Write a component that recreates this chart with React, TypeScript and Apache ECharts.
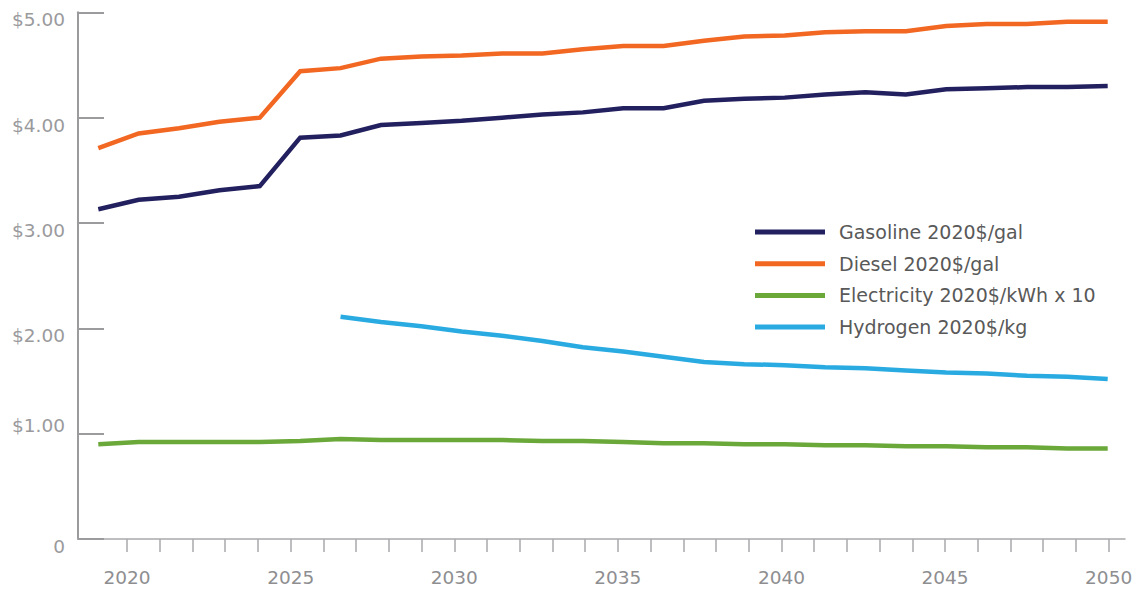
import React, { useEffect, useRef } from "react";
import * as echarts from "echarts";

// 26 evenly spaced data points plotted across the chart
const points = [
  "p01", "p02", "p03", "p04", "p05", "p06", "p07", "p08", "p09", "p10",
  "p11", "p12", "p13", "p14", "p15", "p16", "p17", "p18", "p19", "p20",
  "p21", "p22", "p23", "p24", "p25", "p26",
];

const gasoline = [
  3.13, 3.22, 3.25, 3.31, 3.35, 3.81, 3.83, 3.93, 3.95, 3.97,
  4.0, 4.03, 4.05, 4.09, 4.09, 4.16, 4.18, 4.19, 4.22, 4.24,
  4.22, 4.27, 4.28, 4.29, 4.29, 4.3,
];

const diesel = [
  3.71, 3.85, 3.9, 3.96, 4.0, 4.44, 4.47, 4.56, 4.58, 4.59,
  4.61, 4.61, 4.65, 4.68, 4.68, 4.73, 4.77, 4.78, 4.81, 4.82,
  4.82, 4.87, 4.89, 4.89, 4.91, 4.91,
];

const electricity = [
  0.9, 0.92, 0.92, 0.92, 0.92, 0.93, 0.95, 0.94, 0.94, 0.94,
  0.94, 0.93, 0.93, 0.92, 0.91, 0.91, 0.9, 0.9, 0.89, 0.89,
  0.88, 0.88, 0.87, 0.87, 0.86, 0.86,
];

const hydrogen = [
  null, null, null, null, null, null, 2.11, 2.06, 2.02, 1.97,
  1.93, 1.88, 1.82, 1.78, 1.73, 1.68, 1.66, 1.65, 1.63, 1.62,
  1.6, 1.58, 1.57, 1.55, 1.54, 1.52,
];

const seriesNames = [
  "Gasoline 2020$/gal",
  "Diesel 2020$/gal",
  "Electricity 2020$/kWh x 10",
  "Hydrogen 2020$/kg",
];
const seriesColors = ["#23205f", "#f26722", "#6aa83a", "#29abe2"];

const yearTicks = [
  2020, 2021, 2022, 2023, 2024, 2025, 2026, 2027, 2028, 2029, 2030,
  2031, 2032, 2033, 2034, 2035, 2036, 2037, 2038, 2039, 2040,
  2041, 2042, 2043, 2044, 2045, 2046, 2047, 2048, 2049, 2050,
];
const yearLabels = [2020, 2025, 2030, 2035, 2040, 2045, 2050];
const yLabels = ["0", "$1.00", "$2.00", "$3.00", "$4.00", "$5.00"];

const FONT = "'DejaVu Sans', 'Liberation Sans', Arial, sans-serif";

export default function App() {
  const ref = useRef<HTMLDivElement>(null);

  useEffect(() => {
    if (!ref.current) return;
    const chart = echarts.init(ref.current, undefined, { renderer: "svg" });
    const grey = "#9b9b9e";
    const dataSets = [gasoline, diesel, electricity, hydrogen];

    chart.setOption({
      animation: false,
      backgroundColor: "#ffffff",
      textStyle: { fontFamily: FONT },
      grid: [
        { left: 78, right: 18, top: 12.3, bottom: 51, containLabel: false },
        { left: 98.3, right: 35.3, top: 12.3, bottom: 51, containLabel: false },
      ],
      legend: {
        orient: "vertical",
        left: 750,
        top: 217,
        itemWidth: 70,
        itemHeight: 5,
        itemGap: 11.7,
        icon: "rect",
        selectedMode: false,
        data: seriesNames,
        textStyle: {
          fontFamily: FONT,
          fontSize: 19,
          color: "#595959",
          lineHeight: 20,
          padding: [0, 0, 0, 9],
        },
      },
      xAxis: [
        {
          type: "value",
          gridIndex: 0,
          min: 2018.5,
          max: 2050.5,
          splitLine: { show: false },
          axisLine: { show: true, onZero: false, lineStyle: { color: "#a9a9ac", width: 1.5 } },
          axisTick: {
            show: true,
            inside: false,
            length: 13,
            customValues: yearTicks,
            lineStyle: { color: "#a9a9ac", width: 1.5 },
          },
          axisLabel: {
            show: true,
            customValues: yearLabels,
            margin: 29,
            fontSize: 18.5,
            color: "#8e8e91",
            fontFamily: FONT,
            formatter: (v: number) => String(v),
          },
        },
        {
          type: "category",
          gridIndex: 1,
          data: points,
          boundaryGap: false,
          show: false,
        },
      ],
      yAxis: [
        {
          type: "value",
          gridIndex: 0,
          min: 0,
          max: 5,
          interval: 1,
          splitLine: { show: false },
          axisLine: { show: true, lineStyle: { color: grey, width: 2 } },
          axisTick: { show: true, inside: true, length: 26, lineStyle: { color: grey, width: 2 } },
          axisLabel: {
            margin: 13,
            fontSize: 18.5,
            color: "#9a9a9d",
            fontFamily: FONT,
            formatter: (v: number) => {
              const t = yLabels[Math.round(v)];
              return Math.round(v) === 1 ? `{up|${t}}` : `{dn|${t}}`;
            },
            rich: {
              up: { fontSize: 18.5, color: "#9a9a9d", fontFamily: FONT, padding: [0, 0, 16, 0] },
              dn: { fontSize: 18.5, color: "#9a9a9d", fontFamily: FONT, padding: [15, 0, 0, 0] },
            },
          },
        },
        {
          type: "value",
          gridIndex: 1,
          min: 0,
          max: 5,
          show: false,
          splitLine: { show: false },
        },
      ],
      series: seriesNames.map((name, i) => ({
        name,
        type: "line",
        xAxisIndex: 1,
        yAxisIndex: 1,
        data: dataSets[i],
        showSymbol: false,
        symbol: "none",
        connectNulls: false,
        color: seriesColors[i],
        lineStyle: { color: seriesColors[i], width: 4.5, cap: "butt", join: "miter" },
      })),
    });

    return () => chart.dispose();
  }, []);

  return (
    <div
      ref={ref}
      style={{ position: "fixed", left: 0, top: 0, width: 1143, height: 590 }}
    />
  );
}
